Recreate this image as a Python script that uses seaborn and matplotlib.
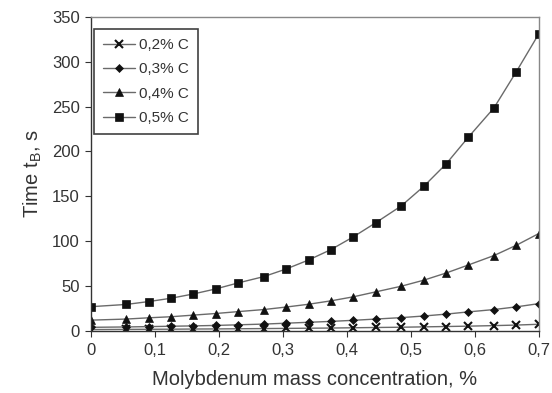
import matplotlib
matplotlib.use("Agg")
import matplotlib.pyplot as plt
import seaborn as sns
import pandas as pd
from matplotlib.ticker import FuncFormatter

# Data
mo = [0, 0.055, 0.09, 0.125, 0.16, 0.195, 0.23, 0.27, 0.305, 0.34,
      0.375, 0.41, 0.445, 0.485, 0.52, 0.555, 0.59, 0.63, 0.665, 0.7]
c02 = [1.5, 1.7, 1.8, 1.9, 2.1, 2.2, 2.4, 2.6, 2.8, 3.0,
       3.2, 3.5, 3.8, 4.1, 4.5, 4.9, 5.3, 5.9, 6.5, 7.4]
c03 = [4.0, 4.4, 4.8, 5.2, 5.6, 6.1, 6.8, 7.6, 8.6, 9.6,
       10.6, 11.8, 13.2, 14.8, 16.6, 18.7, 21.2, 23.8, 26.8, 30.4]
c04 = [12.0, 13.2, 14.6, 15.8, 17.6, 19.4, 21.5, 23.8, 26.6, 29.7,
       33.5, 38.0, 43.5, 49.8, 56.5, 64.5, 73.5, 84.0, 95.5, 108.5]
c05 = [27.0, 29.5, 32.7, 36.4, 41.2, 46.8, 53.5, 60.5, 69.0, 79.0,
       90.6, 104.8, 120.5, 139.3, 161.0, 186.0, 216.0, 248.6, 289.0, 331.0]
labels = ["0,2% C", "0,3% C", "0,4% C", "0,5% C"]
series = [c02, c03, c04, c05]
markers = ["x", "D", "^", "s"]
msizes = [6, 4.5, 5.5, 5.5]

x_ticks = [0, 0.1, 0.2, 0.3, 0.4, 0.5, 0.6, 0.7]
y_ticks = [0, 50, 100, 150, 200, 250, 300, 350]

sns.set_style("white")
plt.rcParams["font.family"] = ["Liberation Sans", "DejaVu Sans"]
plt.rcParams["mathtext.fontset"] = "custom"
plt.rcParams["mathtext.rm"] = "Liberation Sans"

fig = plt.figure(figsize=(5.52, 3.93), dpi=100)
ax = fig.add_axes([0.165, 0.158, 0.811, 0.799])

for lab, vals, mk, ms in zip(labels, series, markers, msizes):
    df = pd.DataFrame({"x": mo, "y": vals})
    sns.lineplot(data=df, x="x", y="y", ax=ax, color="#6a6a6a", linewidth=1.0,
                 marker=mk, markersize=ms, markerfacecolor="#111111",
                 markeredgecolor="#111111",
                 markeredgewidth=1.5 if mk == "x" else 0.5,
                 label=lab)

ax.set_xlim(0, 0.7)
ax.set_ylim(0, 350)
ax.set_xticks(x_ticks)
ax.set_yticks(y_ticks)
fmt = FuncFormatter(lambda v, p: ("%g" % round(v, 2)).replace(".", ","))
ax.xaxis.set_major_formatter(fmt)
ax.tick_params(axis="both", which="major", direction="out", length=4, width=0.8,
               colors="#333333", labelsize=12, labelcolor="#333333",
               bottom=True, left=True)
ax.tick_params(axis="x", pad=5)
ax.tick_params(axis="y", pad=4)

for side in ["left", "bottom"]:
    ax.spines[side].set_color("#333333")
    ax.spines[side].set_linewidth(1.0)
for side in ["top", "right"]:
    ax.spines[side].set_visible(True)
    ax.spines[side].set_color("#888888")
    ax.spines[side].set_linewidth(1.0)

ax.set_xlabel("Molybdenum mass concentration, %", fontsize=14.5, color="#333333",
              labelpad=8)
ax.set_ylabel(r"Time t$_\mathregular{B}$, s", fontsize=14.5, color="#333333",
              labelpad=6)

leg = ax.legend(loc="upper left", bbox_to_anchor=(0.006, 0.962), frameon=True,
                fancybox=False, edgecolor="#111111", fontsize=11,
                handlelength=2.1, handletextpad=0.25, labelspacing=0.68,
                borderpad=0.6, borderaxespad=0.0)
leg.get_frame().set_linewidth(1.2)
for t in leg.get_texts():
    t.set_color("#333333")

fig.savefig("out.png", dpi=100)
